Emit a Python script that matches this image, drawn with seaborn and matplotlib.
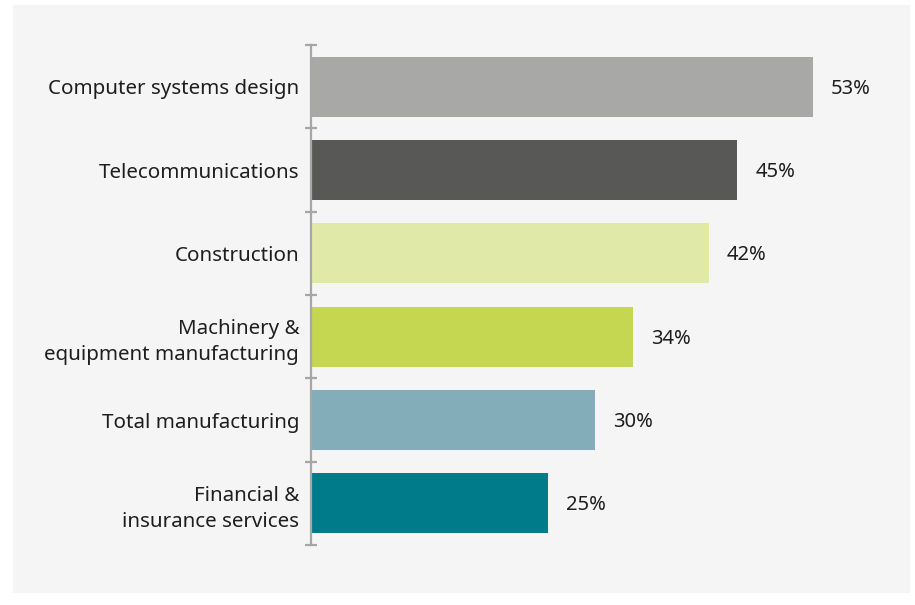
import matplotlib
matplotlib.use("Agg")
import matplotlib.pyplot as plt
import seaborn as sns
import pandas as pd
from matplotlib.patches import Rectangle
from matplotlib.ticker import FixedLocator

# Share of businesses by industry
industries = [
    "Computer systems design",
    "Telecommunications",
    "Construction",
    "Machinery &\nequipment manufacturing",
    "Total manufacturing",
    "Financial &\ninsurance services",
]
shares = [53, 45, 42, 34, 30, 25]
bar_colors = ["#a8a8a6", "#585856", "#e0e9a8", "#c5d651", "#82adb9", "#007b8a"]
value_labels = ["53%", "45%", "42%", "34%", "30%", "25%"]

df = pd.DataFrame({"industry": industries, "share": shares})

sns.set_theme(style="white")
plt.rcParams["font.family"] = ["Noto Sans", "DejaVu Sans"]

W, H = 915, 605
fig = plt.figure(figsize=(W / 100, H / 100), dpi=100, facecolor="white")

# light grey panel behind the chart
fig.patches.append(Rectangle((13 / W, 1 - 593 / H), (910 - 13) / W, (593 - 5) / H,
                             transform=fig.transFigure, facecolor="#f5f5f5",
                             edgecolor="none", zorder=-10))

left_px, right_px, top_px, bottom_px = 311, 880, 45, 545
ax = fig.add_axes([left_px / W, 1 - bottom_px / H,
                   (right_px - left_px) / W, (bottom_px - top_px) / H])
ax.set_facecolor("none")
ax.set_zorder(5)

sns.barplot(data=df, x="share", y="industry", hue="industry", palette=bar_colors,
            legend=False, orient="h", width=0.72, saturation=1, linewidth=0,
            ax=ax)

end_px = 813
ax.set_xlim(0, max(shares) * (right_px - left_px) / (end_px - left_px))
ax.set_ylim(len(industries) - 0.5, -0.5)

for i, (v, lab) in enumerate(zip(shares, value_labels)):
    ax.annotate(lab, xy=(v, i), xytext=(13, -1.5), textcoords="offset points",
                ha="left", va="center", fontsize=14.5, color="#1e1e1e")

ax.set_xlabel("")
ax.set_ylabel("")
ax.set_xticks([])
for side in ("top", "right", "bottom"):
    ax.spines[side].set_visible(False)
ax.spines["left"].set_color("#a6a6a6")
ax.spines["left"].set_linewidth(1.6)

ax.yaxis.set_minor_locator(FixedLocator([k - 0.5 for k in range(len(industries) + 1)]))
ax.tick_params(axis="y", which="major", length=0, pad=8.5, labelsize=14.8,
               labelcolor="#1e1e1e")
ax.tick_params(axis="y", which="minor", left=True, direction="inout", length=8,
               width=1.6, color="#a6a6a6")
for t in ax.get_yticklabels():
    t.set_ha("right")
    t.set_multialignment("right")
    t.set_linespacing(1.4)

fig.savefig("out.png", dpi=100, facecolor="white")
